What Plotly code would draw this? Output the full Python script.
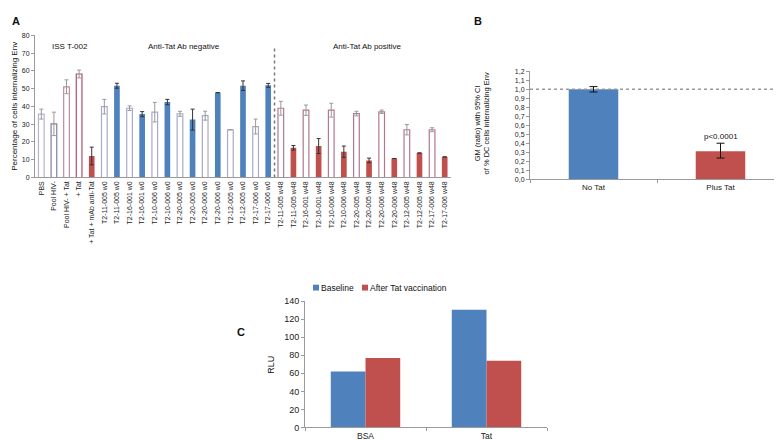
import plotly.graph_objects as go

# Panel A: % of cells internalizing Env
labels_a = [
    "PBS", "Pool HIV-", "Pool HIV- + Tat", "+ Tat", "+ Tat + mAb anti-Tat",
    "T2-11-005 w0", "T2-11-005 w0", "T2-16-001 w0", "T2-16-001 w0",
    "T2-10-006 w0", "T2-10-006 w0", "T2-20-005 w0", "T2-20-005 w0",
    "T2-20-006 w0", "T2-20-006 w0", "T2-12-005 w0", "T2-12-005 w0",
    "T2-17-006 w0", "T2-17-006 w0",
    "T2-11-005 w48", "T2-11-005 w48", "T2-16-001 w48", "T2-16-001 w48",
    "T2-10-006 w48", "T2-10-006 w48", "T2-20-005 w48", "T2-20-005 w48",
    "T2-20-006 w48", "T2-20-006 w48", "T2-12-005 w48", "T2-12-005 w48",
    "T2-17-006 w48", "T2-17-006 w48",
]
values_a = [
    35.7, 30.2, 51.1, 58.3, 12.1,
    39.9, 51.7, 39.0, 35.7, 36.8, 42.5, 35.9, 32.6, 34.8, 47.8, 26.9, 51.7, 28.7, 51.9,
    39.0, 16.7, 37.9, 17.7, 37.9, 14.5, 36.0, 9.6, 37.0, 10.7, 26.9, 13.8, 26.9, 11.6,
]
errors_a = [
    2.8, 6.6, 3.9, 2.2, 5.0,
    4.1, 1.4, 1.3, 1.4, 5.5, 1.5, 1.4, 5.9, 2.5, None, None, 2.7, 4.2, 1.1,
    3.9, 1.3, 2.9, 4.2, 3.9, 3.2, 1.3, 1.3, 1.0, None, 2.9, None, 1.1, None,
]
# group of each bar: ctrl / w0 (Ab negative) / w48 (Ab positive); filled = Tat added
group_a = ["ctrl"] * 5 + ["w0"] * 14 + ["w48"] * 14
filled_a = [False, False, False, False, True] + [False, True] * 7 + [False, True] * 7

# Panel B: GM ratio with 95% CI
cats_b = ["No Tat", "Plus Tat"]
values_b = [1.0, 0.31]
err_plus_b = [0.03, 0.09]
err_minus_b = [0.03, 0.075]

# Panel C: RLU
cats_c = ["BSA", "Tat"]
series_c = ["Baseline", "After Tat vaccination"]
baseline_c = [62, 130.5]
after_c = [77, 74]

BLUE = "#4f81bd"
RED = "#c0504d"
FONT = "Liberation Sans, Arial, sans-serif"
W, H = 782, 440


def px_x(x):
    return x / W


def px_y(y):
    return 1 - y / H


ctrl_outline = ["#b4b4d2", "#7f7f9f", "#c08a9f", "#a8506e"]

open_x, open_y, open_err, open_line = [], [], [], []
fill_x, fill_y, fill_err, fill_col = [], [], [], []
ci = 0
for i, (v, e, g, f) in enumerate(zip(values_a, errors_a, group_a, filled_a)):
    if f:
        fill_x.append(i)
        fill_y.append(v)
        fill_err.append(e)
        fill_col.append(BLUE if g == "w0" else RED)
    else:
        open_x.append(i)
        open_y.append(v)
        open_err.append(e)
        if g == "ctrl":
            open_line.append(ctrl_outline[ci])
            ci += 1
        elif g == "w0":
            open_line.append("#a9a9c9")
        else:
            open_line.append("#b27791")

fig = go.Figure()

fig.add_trace(go.Bar(
    x=open_x, y=open_y, width=0.45,
    marker=dict(color="white", line=dict(color=open_line, width=1.2)),
    error_y=dict(type="data", array=open_err, color="#999999", thickness=1, width=2),
    showlegend=False, xaxis="x", yaxis="y",
))
fig.add_trace(go.Bar(
    x=fill_x, y=fill_y, width=0.45,
    marker=dict(color=fill_col, line=dict(width=0)),
    error_y=dict(type="data", array=fill_err, color="#333333", thickness=1, width=2),
    showlegend=False, xaxis="x", yaxis="y",
))

# Panel B
fig.add_trace(go.Bar(
    x=cats_b, y=values_b, width=0.39,
    marker=dict(color=[BLUE, RED], line=dict(width=0)),
    error_y=dict(type="data", symmetric=False, array=err_plus_b, arrayminus=err_minus_b,
                 color="#111111", thickness=1, width=4),
    showlegend=False, xaxis="x2", yaxis="y2",
))

# Panel C
fig.add_trace(go.Bar(
    x=cats_c, y=baseline_c, name=series_c[0], width=0.287, offset=-0.287,
    marker=dict(color=BLUE, line=dict(width=0)), xaxis="x3", yaxis="y3", showlegend=False,
))
fig.add_trace(go.Bar(
    x=cats_c, y=after_c, name=series_c[1], width=0.287, offset=0,
    marker=dict(color=RED, line=dict(width=0)), xaxis="x3", yaxis="y3", showlegend=False,
))

axis_common = dict(showline=True, linecolor="#9a9a9a", linewidth=1, showgrid=False,
                   zeroline=False, tickfont=dict(size=7, color="#222"))

fig.update_layout(
    width=W, height=H,
    margin=dict(l=0, r=0, t=0, b=0),
    paper_bgcolor="white", plot_bgcolor="white",
    font=dict(family=FONT, color="#222"),
    barmode="overlay",
    separators=", ",
    showlegend=False,
    xaxis=dict(axis_common, domain=[px_x(27), px_x(443)], range=[-0.5, 32.5],
               tickvals=list(range(len(labels_a))), ticktext=labels_a, tickangle=-90,
               ticks="", anchor="y"),
    yaxis=dict(axis_common, domain=[px_y(168.3), px_y(23)], range=[0, 80], dtick=10,
               ticks="outside", ticklen=3, tickcolor="#9a9a9a", anchor="x"),
    xaxis2=dict(axis_common, domain=[px_x(522), px_x(776)], range=[-0.5, 1.5],
                tickfont=dict(size=8, color="#222"), ticks="outside", tickson="boundaries",
                ticklen=3, tickcolor="#9a9a9a", anchor="y2"),
    yaxis2=dict(axis_common, domain=[px_y(170), px_y(59.7)], range=[0, 1.2], dtick=0.1,
                tickformat=".1f", ticks="outside", ticklen=3, tickcolor="#9a9a9a", anchor="x2"),
    xaxis3=dict(axis_common, domain=[px_x(297), px_x(539)], range=[-0.5, 1.5],
                tickfont=dict(size=8.5, color="#222"), ticks="outside", tickson="boundaries",
                ticklen=3, tickcolor="#9a9a9a", anchor="y3"),
    yaxis3=dict(axis_common, domain=[px_y(424), px_y(295)], range=[0, 140], dtick=20,
                tickfont=dict(size=9, color="#222"), ticks="outside", ticklen=3,
                tickcolor="#9a9a9a", anchor="x3"),
)

# separator between Ab negative and Ab positive groups, and reference line in B
fig.add_shape(type="line", xref="x", yref="y", x0=18.5, x1=18.5, y0=0, y1=73,
              line=dict(color="#777777", width=1.5, dash="dot"))
fig.add_shape(type="line", xref="x2 domain", yref="y2", x0=0, x1=1.02, y0=1.0, y1=1.0,
              line=dict(color="#999999", width=1.5, dash="dot"))

# compact legend for panel C (small squares like the original)
for name, col, lx in zip(series_c, [BLUE, RED], [305, 354]):
    fig.add_shape(type="rect", xref="paper", yref="paper",
                  x0=px_x(lx), x1=px_x(lx + 6), y0=px_y(284), y1=px_y(278),
                  fillcolor=col, line=dict(width=0))
    fig.add_annotation(text=name, x=px_x(lx + 7), y=px_y(281), xref="paper", yref="paper",
                       showarrow=False, xanchor="left", yanchor="middle", borderpad=0,
                       font=dict(size=8.5, family=FONT, color="#111"))

annotations = [
    dict(text="<b>A</b>", x=px_x(8), y=px_y(8), size=11),
    dict(text="<b>B</b>", x=px_x(470), y=px_y(8), size=11),
    dict(text="<b>C</b>", x=px_x(233), y=px_y(326), size=11),
    dict(text="ISS T-002", x=px_x(62), y=px_y(34), size=8),
    dict(text="Anti-Tat Ab negative", x=px_x(176), y=px_y(34), size=8),
    dict(text="Anti-Tat Ab positive", x=px_x(359), y=px_y(34), size=8),
    dict(text="Percentage of cells internalizing Env", x=px_x(7), y=px_y(96), size=8, angle=-90),
    dict(text="GM (ratio) with 95% CI<br>of % DC cells internalizing Env", x=px_x(474),
         y=px_y(113), size=7.5, angle=-90),
    dict(text="RLU", x=px_x(263), y=px_y(360), size=9, angle=-90),
]
for a in annotations:
    fig.add_annotation(text=a["text"], x=a["x"], y=a["y"], xref="paper", yref="paper",
                       showarrow=False, textangle=a.get("angle", 0),
                       font=dict(size=a["size"], family=FONT, color="#111"),
                       xanchor="center", yanchor="middle")

fig.add_annotation(text="p<0.0001", x="Plus Tat", y=0.47, xref="x2", yref="y2",
                   showarrow=False, font=dict(size=8, family=FONT, color="#111"),
                   yanchor="middle")

fig.write_html("out.html")
